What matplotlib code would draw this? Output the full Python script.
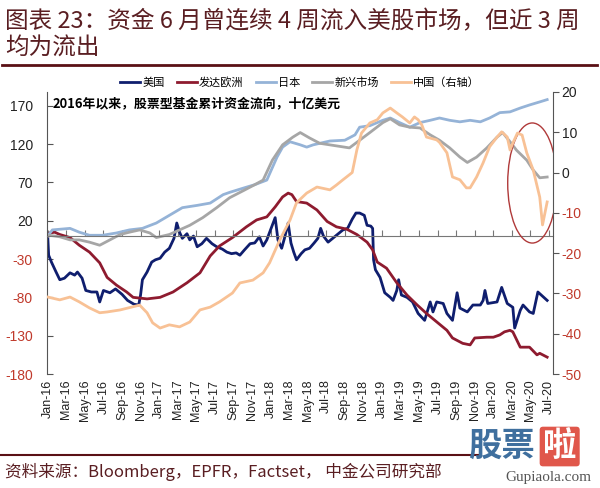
import matplotlib.pyplot as plt
from matplotlib.patches import Ellipse

plt.rcParams['font.family'] = ['Liberation Sans', 'Noto Sans CJK SC']
CJK = ['Noto Sans CJK SC', 'DejaVu Sans']

# x values are months since Jan-2016
us_m = [0, 0.1, 0.4, 0.9, 1.3, 1.8, 2.4, 2.9, 3.2, 3.7, 4.1, 4.7, 5.3, 5.6, 6.0, 6.7, 7.3, 8.0,
        8.6, 9.3, 9.8, 10.0, 10.2, 10.7, 11.2, 11.6, 12.1, 12.6, 13.1, 13.6, 13.9, 14.2, 14.5,
        15.0, 15.3, 15.7, 16.1, 16.6, 17.1, 17.7, 18.2, 18.8, 19.3, 19.8, 20.3, 20.7, 21.2,
        21.8, 22.3, 22.8, 23.2, 23.6, 24.0, 24.5, 24.8, 25.2, 25.5, 25.9, 26.2, 26.5, 26.8,
        27.3, 27.7, 28.2, 28.7, 29.1, 29.4, 29.7, 30.2, 30.7, 31.3, 31.8, 32.3, 32.8, 33.2,
        33.6, 34.1, 34.4, 34.8, 35.0, 35.1, 35.3, 35.8, 36.3, 36.9, 37.2, 37.6, 37.8, 38.1,
        38.7, 39.3, 39.9, 40.6, 41.2, 41.5, 41.9, 42.6, 43.0, 43.6, 44.1, 44.4, 45.2, 45.8,
        46.6, 46.9, 47.1, 47.4, 48.4, 48.9, 49.5, 50.1, 50.3, 50.9, 51.2, 51.9, 52.3, 52.8, 53.8]
us_v = [0, -25, -34, -47, -57, -55, -48, -51, -47, -55, -71, -73, -73, -86, -71, -74, -69, -76,
        -84, -89, -90, -77, -57, -47, -34, -31, -29, -21, -16, -3, 17, 5, -3,
        3, -5, 0, -14, -10, -3, -10, -14, -17, -21, -23, -22, -25, -18,
        -10, -9, -1, -13, -5, 8, 24, -5, -16, -3, 17, -9, -21, -31,
        -23, -18, -16, -9, -3, 10, 0, -8, -3, 3, 8, 10, 22, 30,
        30, 27, 14, 13, 10, -31, -44, -54, -74, -80, -84, -71, -57, -77,
        -80, -86, -101, -110, -86, -99, -86, -88, -101, -110, -74, -94, -99, -90,
        -90, -84, -71, -88, -86, -67, -88, -93, -120, -97, -90, -99, -101, -73, -84]

eu_m = [0, 0.2, 0.75, 1.3, 2.4, 3.4, 4.5, 5.6, 6.4, 7.4, 8.5, 9.2, 10.7, 12.1, 13.5, 15.0, 16.4,
        17.5, 18.5, 19.9, 21.4, 22.5, 23.6, 24.5, 25.3, 25.9, 26.3, 26.8, 27.9, 29.0, 30.1,
        31.1, 32.2, 33.3, 34.4, 35.0, 35.5, 36.5, 37.6, 38.7, 39.8, 40.8, 41.9, 43.0, 43.6,
        44.7, 45.5, 46.0, 47.3, 48.0, 48.7, 49.2, 49.8, 50.1, 50.9, 51.9, 52.7, 53.0, 53.8]
eu_v = [0, 4, 5, 2, -2, -12, -21, -35, -54, -64, -73, -80, -82, -80, -73, -61, -48,
        -26, -13, -2, 12, 21, 25, 38, 51, 56, 54, 45, 43, 34, 19,
        12, 9, 2, -8, -18, -34, -42, -61, -77, -90, -101, -112, -123, -133,
        -140, -142, -133, -132, -132, -129, -125, -123, -125, -145, -145, -155, -153, -158]

jp_m = [0, 0.5, 2.4, 3.4, 4.5, 5.9, 7.4, 8.8, 10.2, 11.7, 13.1, 14.5, 16.1, 17.5, 18.9, 19.6,
        21.2, 22.3, 23.6, 24.7, 25.3, 26.1, 27.2, 27.9, 28.6, 30.4, 32.0, 33.1, 33.6, 34.7,
        36.1, 36.9, 37.9, 39.0, 40.1, 41.2, 42.2, 43.3, 44.4, 45.5, 46.6, 47.6, 48.7, 49.8,
        50.9, 51.9, 53.0, 53.8]
jp_v = [0, 8, 10, 5, 1, 1, 4, 8, 10, 17, 27, 37, 40, 43, 54, 57,
        63, 67, 73, 103, 116, 123, 119, 116, 119, 124, 125, 132, 142, 144,
        151, 154, 148, 142, 148, 151, 154, 151, 149, 151, 149, 154, 161, 162,
        167, 171, 175, 178]

em_m = [0, 0.2, 1.3, 2.4, 3.4, 4.5, 5.6, 6.7, 7.8, 8.8, 9.9, 11.0, 11.7, 13.1, 14.2, 15.3,
        16.7, 18.2, 19.6, 21.2, 22.3, 23.2, 24.2, 25.3, 26.4, 27.2, 28.2, 29.3, 30.9, 32.5,
        33.6, 34.7, 36.1, 36.9, 37.9, 39.0, 40.1, 41.2, 42.2, 43.3, 44.4, 45.2, 46.2, 47.3,
        48.4, 49.0, 49.8, 50.5, 51.6, 52.3, 53.0, 53.8]
em_v = [0, 1, -1, -5, -5, -8, -12, -5, 2, 5, 8, 4, -2, 2, 8, 14,
        24, 37, 50, 60, 67, 73, 99, 119, 129, 135, 128, 121, 118, 115,
        125, 135, 148, 153, 145, 142, 141, 132, 125, 115, 103, 96, 103, 115,
        129, 135, 123, 112, 99, 86, 76, 77]

# China, right axis
cn_m = [0, 1.3, 2.4, 3.4, 4.5, 5.6, 6.4, 7.8, 9.2, 9.9, 10.7, 11.3, 12.1, 13.1, 14.2, 15.3,
        16.4, 17.5, 18.5, 19.9, 20.7, 22.1, 23.2, 23.9, 25.0, 26.1, 26.8, 27.9, 29.0, 30.4,
        31.1, 31.8, 32.8, 33.3, 33.8, 34.7, 35.5, 36.1, 36.9, 37.6, 38.2, 39.0, 39.5, 39.9,
        40.3, 40.8, 41.9, 42.2, 43.0, 43.6, 44.4, 45.1, 45.5, 46.2, 46.9, 47.6, 48.4, 48.9,
        49.5, 49.8, 50.1, 50.6, 51.1, 51.6, 52.3, 53.0, 53.3, 53.8]
cn_v = [-30.9, -31.6, -30.9, -32.1, -33.6, -34.8, -34.6, -34.1, -33.3, -32.9, -34.8, -37.3,
        -38.6, -37.8, -38.3, -37.1, -34.1, -33.4, -32.1, -29.9, -27.4, -26.7, -24.9, -22.4,
        -16.7, -11.8, -7.5, -5.1, -3.6, -4.3, -3.1, -1.8, 0, 5.6, 9.8, 12.3, 13.1, 14.8, 16.0,
        14.8, 13.8, 12.3, 13.8, 13.1, 11.8, 8.8, 8.1, 7.5, 4.9, -1.1, -1.8, -3.8, -3.8, -1.1,
        2.4, 6.4, 8.8, 10.1, 8.8, 5.6, 7.3, 9.8, 9.3, 4.9, 0.6, -6.1, -13.0, -7.3]

labels = ['美国', '发达欧洲', '日本', '新兴市场', '中国（右轴）']
colors = ['#0F1E6E', '#8E1B2F', '#95B3D7', '#A6A6A6', '#F8C195']

mon_names = ['Jan', 'Mar', 'May', 'Jul', 'Sep', 'Nov']
tick_pos = list(range(0, 55, 2))
tick_labels = [f'{mon_names[(p % 12) // 2]}-{16 + p // 12}' for p in tick_pos]

fig = plt.figure(figsize=(6, 4.88), dpi=100)
ax = fig.add_axes([0.078, 0.2336, 0.844, 0.578])
ax2 = ax.twinx()

lines = []
for m, v, c, lab in [(us_m, us_v, colors[0], labels[0]), (eu_m, eu_v, colors[1], labels[1]),
                     (jp_m, jp_v, colors[2], labels[2]), (em_m, em_v, colors[3], labels[3])]:
    lines += ax.plot(m, v, color=c, lw=2.0, label=lab)
lines += ax2.plot(cn_m, cn_v, color=colors[4], lw=2.0, label=labels[4])

ax.set_xlim(-0.1, 54.45)
ax.set_ylim(-180, 188)
ax2.set_ylim(-50, 20)

neg = '#C0392B'
lt = list(range(-180, 171, 50))
ax.set_yticks(lt, labels=[str(t) for t in lt], fontsize=10)
for t, lab in zip(lt, ax.get_yticklabels()):
    lab.set_color(neg if t < 0 else '#222222')
rt = list(range(-50, 21, 10))
ax2.set_yticks(rt, labels=[str(t) for t in rt], fontsize=10)
for t, lab in zip(rt, ax2.get_yticklabels()):
    lab.set_color(neg if t < 0 else '#222222')

ax.spines['top'].set_visible(False)
ax.spines['right'].set_visible(False)
ax.spines['left'].set_color('#555555')
ax.spines['bottom'].set_position(('data', 0))
ax.spines['bottom'].set_color('#777777')
ax.spines['bottom'].set_linewidth(0.8)
for s in ['top', 'left', 'bottom']:
    ax2.spines[s].set_visible(False)
ax2.spines['right'].set_color('#555555')
ax.tick_params(axis='y', direction='in', length=4, color='#555555', pad=10)
ax2.tick_params(axis='y', direction='out', length=4, color='#555555', pad=2)
ax.set_xticks(tick_pos)
ax.tick_params(axis='x', direction='in', length=4, color='#777777', labelbottom=False)

sec = ax.secondary_xaxis('bottom')
sec.set_xticks(tick_pos, labels=tick_labels, rotation=90, fontsize=9, color='#222222')
sec.tick_params(length=0, pad=4)
sec.spines['bottom'].set_visible(False)

ax2.add_patch(Ellipse((52.2, -2.6), 5.3, 29.8, fill=False, ec='#B03A3A', lw=1.0))

ax.text(0.012, 0.96, '2016年以来，股票型基金累计资金流向，十亿美元', transform=ax.transAxes,
        fontsize=9.3, fontweight='bold', va='center', ha='left', family=CJK)

ax.legend(lines, labels, loc='center', bbox_to_anchor=(0.5, 1.035), ncol=5, frameon=False,
          prop={'family': CJK, 'size': 8}, handlelength=1.8, handletextpad=0.2, columnspacing=1.1)

title_c = '#5A1E22'
fig.text(0.008, 0.955, '图表 23：资金 6 月曾连续 4 周流入美股市场，但近 3 周', fontsize=17,
         color=title_c, va='center', ha='left', family=CJK)
fig.text(0.008, 0.902, '均为流出', fontsize=17, color=title_c, va='center', ha='left', family=CJK)
fig.add_artist(plt.Line2D([0.003, 0.995], [0.867, 0.867], color='#5A1015', lw=2))
fig.add_artist(plt.Line2D([0.0, 0.8], [0.068, 0.068], color='#5A1015', lw=1.5))
fig.text(0.008, 0.033, '资料来源：Bloomberg，EPFR，Factset， 中金公司研究部', fontsize=12,
         color=title_c, va='center', ha='left', family=CJK)

# watermark
fig.text(0.78, 0.085, '股票', fontsize=24, fontweight='bold', color='#3F6F9E', va='center',
         ha='left', family=CJK)
fig.text(0.905, 0.085, '啦', fontsize=24, fontweight='bold', color='white', va='center',
         ha='left', family=CJK, bbox=dict(boxstyle='round,pad=0.1', fc='#E0574B', ec='none'))
fig.text(0.985, 0.022, 'Gupiaola.com', fontsize=11, color='#555555', va='center', ha='right',
         family='Liberation Serif')

fig.savefig('out.png', dpi=100)
